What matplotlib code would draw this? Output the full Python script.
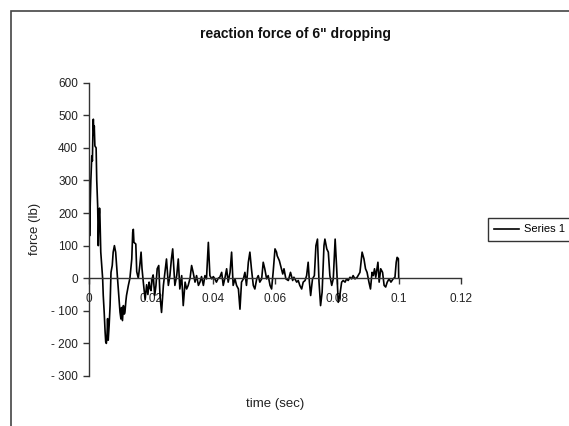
import matplotlib
matplotlib.use('Agg')
import matplotlib.pyplot as plt
from matplotlib.patches import Rectangle

plt.rcParams['font.family'] = ['Liberation Sans', 'DejaVu Sans']
plt.rcParams['axes.unicode_minus'] = False

# time (sec) and reaction force (lb)
time_s = [0.0000, 0.0001, 0.0002, 0.0004, 0.0006, 0.0009, 0.0011, 0.0013, 0.0014, 0.0016,
          0.0017, 0.0019, 0.0023, 0.0025, 0.0028, 0.0030, 0.0032, 0.0034, 0.0035, 0.0038,
          0.0041, 0.0044, 0.0046, 0.0049, 0.0052, 0.0054, 0.0056, 0.0058, 0.0060, 0.0062,
          0.0065, 0.0068, 0.0071, 0.0075, 0.0078, 0.0082, 0.0086, 0.0089, 0.0092, 0.0097,
          0.0100, 0.0103, 0.0105, 0.0108, 0.0111, 0.0114, 0.0116, 0.0119, 0.0121, 0.0127,
          0.0132, 0.0138, 0.0141, 0.0143, 0.0145, 0.0151, 0.0154, 0.0159, 0.0164, 0.0168,
          0.0171, 0.0175, 0.0181, 0.0186, 0.0190, 0.0194, 0.0197, 0.0200, 0.0204, 0.0207,
          0.0212, 0.0216, 0.0220, 0.0225, 0.0229, 0.0234, 0.0240, 0.0245, 0.0250, 0.0256,
          0.0261, 0.0266, 0.0270, 0.0274, 0.0277, 0.0283, 0.0288, 0.0293, 0.0299, 0.0304,
          0.0310, 0.0315, 0.0320, 0.0326, 0.0331, 0.0336, 0.0342, 0.0347, 0.0353, 0.0358,
          0.0363, 0.0369, 0.0374, 0.0379, 0.0385, 0.0390, 0.0396, 0.0401, 0.0406, 0.0411,
          0.0417, 0.0422, 0.0428, 0.0433, 0.0439, 0.0444, 0.0449, 0.0455, 0.0460, 0.0465,
          0.0471, 0.0476, 0.0482, 0.0487, 0.0492, 0.0498, 0.0503, 0.0508, 0.0514, 0.0519,
          0.0524, 0.0530, 0.0535, 0.0541, 0.0546, 0.0551, 0.0557, 0.0562, 0.0567, 0.0573,
          0.0578, 0.0584, 0.0589, 0.0594, 0.0600, 0.0605, 0.0607, 0.0614, 0.0618, 0.0625,
          0.0629, 0.0635, 0.0643, 0.0650, 0.0657, 0.0661, 0.0670, 0.0675, 0.0680, 0.0686,
          0.0691, 0.0697, 0.0702, 0.0707, 0.0711, 0.0715, 0.0721, 0.0727, 0.0732, 0.0737,
          0.0742, 0.0747, 0.0752, 0.0758, 0.0761, 0.0767, 0.0772, 0.0777, 0.0783, 0.0788,
          0.0794, 0.0799, 0.0804, 0.0809, 0.0815, 0.0820, 0.0826, 0.0831, 0.0836, 0.0842,
          0.0847, 0.0852, 0.0858, 0.0865, 0.0874, 0.0881, 0.0887, 0.0892, 0.0897, 0.0903,
          0.0908, 0.0913, 0.0917, 0.0921, 0.0925, 0.0932, 0.0936, 0.0941, 0.0947, 0.0952,
          0.0957, 0.0962, 0.0968, 0.0974, 0.0981, 0.0987, 0.0991, 0.0994, 0.0998, 0.0999]
force_lb = [170, 240, 130, 230, 300, 375, 360, 470, 488, 440,
            467, 406, 400, 300, 222, 100, 182, 215, 202, 80,
            39, 0, -53, -104, -165, -196, -200, -180, -124, -190,
            -145, -84, 18, 39, 80, 100, 80, 39, 0, -63,
            -104, -125, -90, -130, -84, -110, -104, -70, -53, -22,
            0, 59, 141, 150, 110, 105, 20, 0, 40, 80,
            30, -10, -65, -20, -50, -12, -30, -38, 0, 10,
            -53, -22, 29, 39, -53, -105, -22, 18, 59, -22,
            8, 60, 90, 29, -22, 8, 59, -33, 8, -84,
            -12, -33, -22, 0, 39, 18, -12, 8, -22, -12,
            5, -22, 8, -2, 110, 8, -2, 5, -2, -12,
            0, 3, 18, -22, 3, 29, -12, 18, 80, -22,
            -2, -22, -33, -95, -12, -2, 18, -22, 49, 80,
            29, -22, -33, -2, 8, -12, -2, 49, 29, -2,
            8, -22, -33, 18, 90, 80, 69, 54, 39, 13,
            29, -2, -7, 18, -7, 3, -12, -7, -22, -33,
            -12, -7, 8, 49, -12, -53, -2, 8, 100, 120,
            -12, -84, -43, 100, 120, 90, 80, 8, -22, -2,
            120, 29, -74, -53, -12, -7, -12, -2, -7, 3,
            -2, 8, -2, 3, 18, 80, 59, 29, 18, -12,
            -33, 18, 8, 29, 3, 49, -12, 29, 18, -22,
            -27, -12, -2, -12, -2, 3, 49, 64, 60, 3]

xticks = [0, 0.02, 0.04, 0.06, 0.08, 0.1, 0.12]
xtick_labels = ['0', '0.02', '0.04', '0.06', '0.08', '0.1', '0.12']
yticks = [600, 500, 400, 300, 200, 100, 0, -100, -200, -300]
ytick_labels = ['600', '500', '400', '300', '200', '100', '0', '- 100', '- 200', '- 300']

fig = plt.figure(figsize=(5.69, 4.26), dpi=100)
ax = fig.add_axes([0.1564, 0.1174, 0.6538, 0.6885])

ax.plot(time_s, force_lb, color='black', lw=1.2, label='Series 1')

ax.set_xlim(0, 0.12)
ax.set_ylim(-300, 600)
ax.set_xticks(xticks)
ax.set_xticklabels(xtick_labels)
ax.set_yticks(yticks)
ax.set_yticklabels(ytick_labels)

# Excel style axes: x axis crosses at zero
ax.spines['top'].set_visible(False)
ax.spines['right'].set_visible(False)
ax.spines['bottom'].set_position(('data', 0))
for s in ('left', 'bottom'):
    ax.spines[s].set_color('#333333')
    ax.spines[s].set_linewidth(1.0)
ax.tick_params(axis='both', direction='out', length=4, width=1.0, color='#333333',
               labelsize=8.5, labelcolor='#222222')
ax.tick_params(axis='y', pad=4)
ax.tick_params(axis='x', pad=7)

ax.set_xlabel('time (sec)', fontsize=9.5, color='#222222')
ax.xaxis.set_label_coords(0.5, -0.075)
ax.set_ylabel('force (lb)', fontsize=9.5, color='#222222')
ax.yaxis.set_label_coords(-0.128, 0.5)

fig.text(296 / 569, 1 - 34 / 426, 'reaction force of 6" dropping', ha='center', va='center',
         fontsize=10, fontweight='bold', color='#111111')

leg = fig.legend(loc='center left', bbox_to_anchor=(488 / 569, 1 - 229.5 / 426),
                 fontsize=8, frameon=True, fancybox=False, borderaxespad=0,
                 handlelength=2.2, handletextpad=0.5, borderpad=0.55)
leg.get_frame().set_edgecolor('black')
leg.get_frame().set_linewidth(1.0)

# chart area border
fig.patches.append(Rectangle((11 / 569, -0.1), 1.2, 1.1 - 11 / 426, transform=fig.transFigure,
                             fill=False, edgecolor='#444444', lw=1.2))

fig.savefig('out.png', dpi=100)
